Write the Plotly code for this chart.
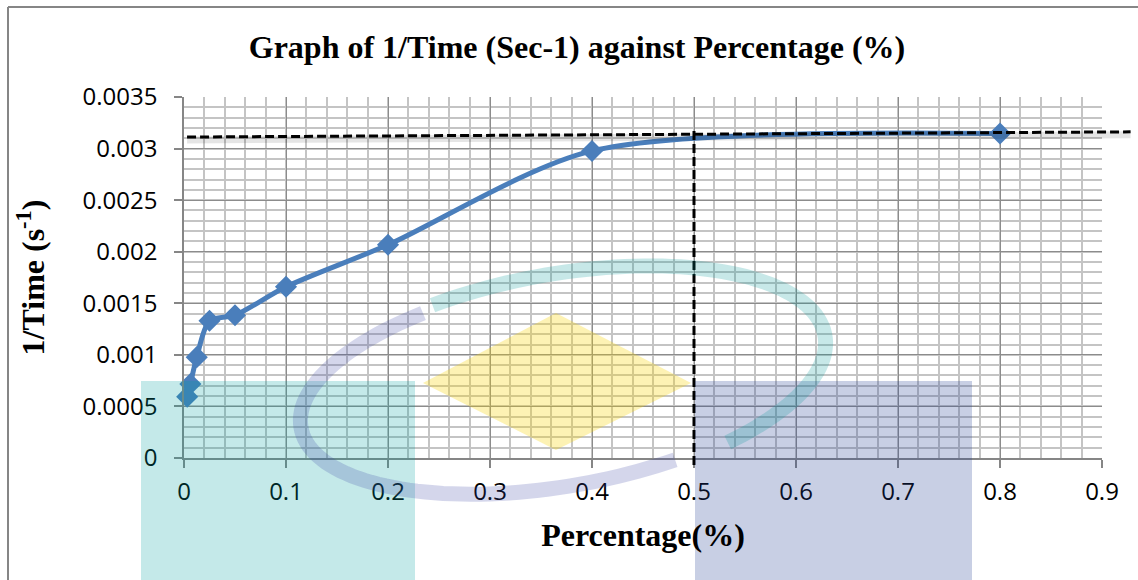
import numpy as np
import plotly.graph_objects as go

# ---- data ----
percentage = [0.003125, 0.00625, 0.0125, 0.025, 0.05, 0.1, 0.2, 0.4, 0.8]
inv_time = [0.000595, 0.000718, 0.000978, 0.001330, 0.001384, 0.001660, 0.002067, 0.002977, 0.003146]

x_ticks = [0, 0.1, 0.2, 0.3, 0.4, 0.5, 0.6, 0.7, 0.8, 0.9]
x_tick_text = ["0", "0.1", "0.2", "0.3", "0.4", "0.5", "0.6", "0.7", "0.8", "0.9"]
y_ticks = [0, 0.0005, 0.001, 0.0015, 0.002, 0.0025, 0.003, 0.0035]
y_tick_text = ["0", "0.0005", "0.001", "0.0015", "0.002", "0.0025", "0.003", "0.0035"]

# reference dashed lines (data units)
h_dash_x = [0.003, 0.928]
h_dash_y = [0.003112, 0.003162]
v_dash_x = [0.5, 0.5]
v_dash_y = [0.00317, -0.00007]

X_MAX = 0.9
Y_MAX = 0.0035

W, H = 1138, 580
L, R, T, B = 184, 36, 97, 122
PW, PH = W - L - R, H - T - B

fig = go.Figure()
fig.add_trace(go.Scatter(
    x=percentage, y=inv_time, mode="lines+markers",
    line=dict(color="#4A7EBB", width=5, shape="spline", smoothing=0.8),
    marker=dict(symbol="diamond", size=17, color="#4A7EBB"),
    showlegend=False, cliponaxis=False,
))

def px_to_paper(px, py):
    return (px - L) / PW, (H - B - py) / PH

shapes = []
# dashed lines (paper coords so they can run past the plot edge)
hx = [v / X_MAX for v in h_dash_x]
hy = [v / Y_MAX for v in h_dash_y]
shapes.append(dict(type="line", xref="paper", yref="paper", x0=hx[0], x1=hx[1],
                   y0=hy[0] - 0.008, y1=hy[1] - 0.008,
                   line=dict(color="rgba(0,0,0,0.10)", width=7), layer="above"))
shapes.append(dict(type="line", xref="paper", yref="paper", x0=hx[0], x1=hx[1],
                   y0=hy[0], y1=hy[1],
                   line=dict(color="black", width=3, dash="9px,4px"), layer="above"))
vx = [v / X_MAX for v in v_dash_x]
vy = [v / Y_MAX for v in v_dash_y]
shapes.append(dict(type="line", xref="paper", yref="paper", x0=vx[0], x1=vx[1],
                   y0=vy[0], y1=vy[1],
                   line=dict(color="black", width=3, dash="9px,4px"), layer="above"))

# watermark (decorative, pixel-based)
def rect(x0, y0, x1, y1, color):
    a0 = px_to_paper(x0, y0)
    a1 = px_to_paper(x1, y1)
    return dict(type="rect", xref="paper", yref="paper", x0=a0[0], y0=a0[1], x1=a1[0], y1=a1[1],
                fillcolor=color, line=dict(width=0), layer="above")

shapes.append(rect(141, 381, 415, 600, "rgba(0,160,160,0.23)"))
shapes.append(rect(695, 381, 972, 600, "rgba(35,63,147,0.25)"))

pts = [(423, 383), (556, 313), (691, 383), (556, 450)]
pp = [px_to_paper(*p) for p in pts]
path = "M " + " L ".join(f"{a:.4f},{b:.4f}" for a, b in pp) + " Z"
shapes.append(dict(type="path", xref="paper", yref="paper", path=path,
                   fillcolor="rgba(248,212,5,0.30)", line=dict(width=0), layer="above"))

def arc(t0, t1, cx=561, cy=382, rx=268, ry=108, rot=10):
    ts = np.radians(np.linspace(t0, t1, 80))
    th = np.radians(rot)
    ex = rx * np.cos(ts)
    ey = ry * np.sin(ts)
    xr = ex * np.cos(th) - ey * np.sin(th)
    yr = ex * np.sin(th) + ey * np.cos(th)
    pts = [px_to_paper(cx + a, cy - b) for a, b in zip(xr, yr)]
    return "M " + " L ".join(f"{a:.4f},{b:.4f}" for a, b in pts)

shapes.append(dict(type="path", xref="paper", yref="paper", path=arc(115, -55),
                   line=dict(color="rgba(0,150,150,0.22)", width=15), layer="above"))
shapes.append(dict(type="path", xref="paper", yref="paper", path=arc(118, 292, rx=264, ry=104),
                   line=dict(color="rgba(60,70,165,0.22)", width=15), layer="above"))

# outer frame
f0 = px_to_paper(8, 7)
f1 = px_to_paper(1140, 7)
f2 = px_to_paper(8, 590)
shapes.append(dict(type="line", xref="paper", yref="paper", x0=f0[0], y0=f0[1], x1=f1[0], y1=f1[1],
                   line=dict(color="#868686", width=2)))
shapes.append(dict(type="line", xref="paper", yref="paper", x0=f0[0], y0=f0[1], x1=f2[0], y1=f2[1],
                   line=dict(color="#868686", width=2)))

tick_font = dict(family="Open Sans, sans-serif", size=24, color="black")
title_font = dict(family="Liberation Serif, Times New Roman, serif", size=32, color="black")

fig.update_layout(
    width=W, height=H,
    margin=dict(l=L, r=R, t=T, b=B),
    paper_bgcolor="white", plot_bgcolor="white",
    title=dict(text="<b>Graph of 1/Time (Sec-1) against Percentage (%)</b>",
               x=577 / W, xref="container", xanchor="center",
               y=1 - 47 / H, yref="container", yanchor="middle",
               font=dict(family="Liberation Serif, Times New Roman, serif", size=32, color="black")),
    shapes=shapes,
    xaxis=dict(range=[0, X_MAX], tickvals=x_ticks, ticktext=x_tick_text,
               showgrid=True, gridcolor="#8C8C8C", gridwidth=1,
               minor=dict(dtick=0.02, showgrid=True, gridcolor="#C4C4C4", gridwidth=1.5),
               showline=True, linecolor="#868686", linewidth=1.5,
               ticks="outside", ticklen=8, tickcolor="#868686", tickwidth=1.5,
               tickfont=tick_font, zeroline=False, ticklabelstandoff=3,
               title=dict(text="<b>Percentage(%)</b>", font=title_font, standoff=18)),
    yaxis=dict(range=[0, Y_MAX], tickvals=y_ticks, ticktext=y_tick_text,
               showgrid=True, gridcolor="#8C8C8C", gridwidth=1,
               minor=dict(dtick=0.0001, showgrid=True, gridcolor="#C4C4C4", gridwidth=1.5),
               showline=True, linecolor="#868686", linewidth=1.5,
               ticks="outside", ticklen=8, tickcolor="#868686", tickwidth=1.5,
               tickfont=tick_font, zeroline=False, ticklabelstandoff=12,
               title=dict(text="<b>1/Time (s<sup>-1</sup>)</b>", font=title_font, standoff=28)),
)

fig.write_html("out.html")
